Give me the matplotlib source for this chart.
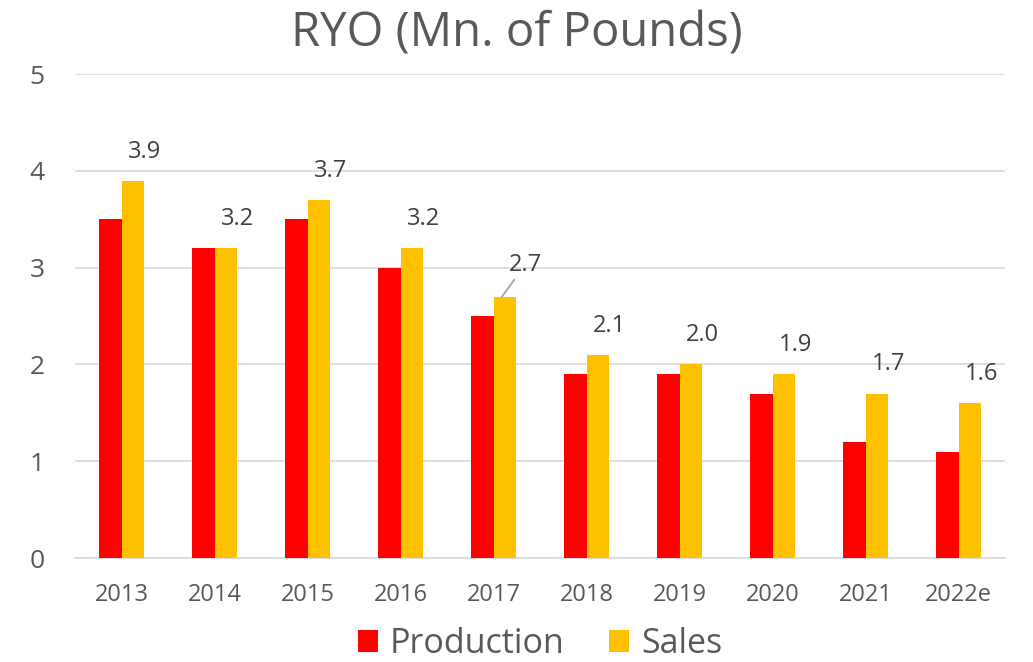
import matplotlib
matplotlib.use('Agg')
import matplotlib.pyplot as plt
import numpy as np

plt.rcParams['font.family'] = ['Open Sans', 'DejaVu Sans']

# Данные
years = ['2013', '2014', '2015', '2016', '2017', '2018', '2019', '2020', '2021', '2022e']
production = [3.5, 3.2, 3.5, 3.0, 2.5, 1.9, 1.9, 1.7, 1.2, 1.1]
sales = [3.9, 3.2, 3.7, 3.2, 2.7, 2.1, 2.0, 1.9, 1.7, 1.6]

grey = '#595959'
fig = plt.figure(figsize=(10.33, 6.62), dpi=100)
ax = fig.add_axes([0.0726, 0.157, 0.9004, 0.731])

x = np.arange(len(years))
w = 0.24
ax.bar(x - w / 2, production, w, color='#FF0000', label='Production', zorder=3)
ax.bar(x + w / 2, sales, w, color='#FFC000', label='Sales', zorder=3)

# Подписи значений над жёлтыми столбцами
for i, v in enumerate(sales):
    if years[i] == '2017':
        ax.annotate(f'{v:.1f}', xy=(x[i] + w / 2 - 0.03, v), xytext=(x[i] + w / 2 + 0.22, v + 0.33),
                    ha='center', va='center', fontsize=17, color='#404040',
                    arrowprops=dict(arrowstyle='-', color='#A6A6A6', lw=1.3, shrinkA=0, shrinkB=0))
    else:
        ax.text(x[i] + w / 2 + 0.13, v + 0.3, f'{v:.1f}', ha='center', va='center',
                fontsize=17, color='#404040')

ax.set_xlim(-0.5, len(years) - 0.5)
ax.set_ylim(0, 5)
ax.set_yticks(range(6))
ax.set_xticks(x)
ax.set_xticklabels(years)
ax.grid(axis='y', color='#D9D9D9', lw=1.2, zorder=0)
for s in ['top', 'right', 'left']:
    ax.spines[s].set_visible(False)
ax.spines['bottom'].set_color('#D9D9D9')
ax.spines['bottom'].set_linewidth(1.2)
ax.tick_params(axis='y', length=0, labelsize=19, labelcolor=grey, pad=22)
ax.tick_params(axis='x', length=0, labelsize=17, labelcolor=grey, pad=18)

fig.suptitle('RYO (Mn. of Pounds)', fontsize=34, color=grey, y=0.985)
ax.legend(loc='upper center', bbox_to_anchor=(0.5, -0.1), ncol=2, frameon=False,
          fontsize=24.5, labelcolor=grey, handlelength=0.6, handleheight=0.6,
          handletextpad=0.35, columnspacing=1.3, borderaxespad=0.2)

fig.savefig('out.png', dpi=100)
